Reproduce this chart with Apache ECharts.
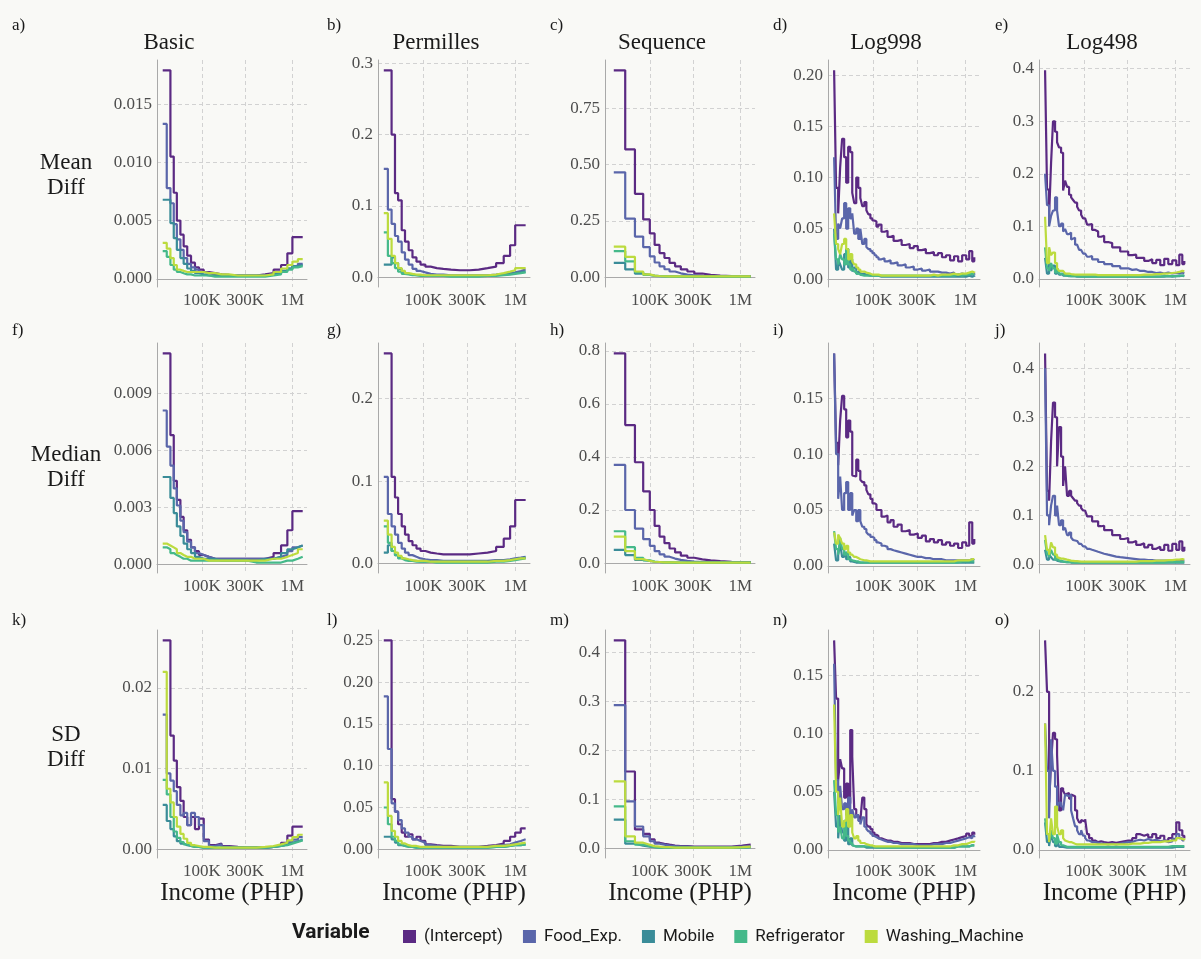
<!DOCTYPE html>
<html><head><meta charset="utf-8">
<script src="https://cdn.jsdelivr.net/npm/echarts@6/dist/echarts.min.js"></script>
<style>html,body{margin:0;padding:0;background:#f9f9f6}#c{width:1201px;height:959px}</style>
</head><body><div id="c"></div>
<script>
// ---------- categories ----------
const variables = ['(Intercept)', 'Food_Exp.', 'Mobile', 'Refrigerator', 'Washing_Machine'];
const methods = ['Basic', 'Permilles', 'Sequence', 'Log998', 'Log498'];
const statRows = ['Mean\nDiff', 'Median\nDiff', 'SD\nDiff'];
const panelLetters = ['a)','b)','c)','d)','e)','f)','g)','h)','i)','j)','k)','l)','m)','n)','o)'];
const xTickValues = [100000, 300000, 1000000];

// ---------- income break points (PHP) ----------
const incomeBasic = [37000, 41000, 45000, 49000, 53000, 58000, 63000, 69000, 76000, 84000, 93000, 105000, 120000, 140000, 165000, 200000, 250000, 320000, 400000, 500000, 620000, 750000, 880000, 1000000, 1150000, 1300000];
const incomeSeq = [40000, 53500, 68500, 84500, 100000, 113000, 128000, 145000, 165000, 190000, 220000, 260000, 310000, 380000, 470000, 600000, 800000, 1050000, 1300000];
const incomeLog = [37300, 39200, 41300, 43400, 45600, 48000, 50500, 53100, 55900, 58800,
  61800, 65000, 68400, 72000, 75700, 79600, 83800, 88100, 92700, 97500,
  102600, 107900, 113500, 122400, 132100, 142500, 153800, 165900, 183500, 203100,
  224700, 248600, 275200, 304400, 336900, 372800, 412500, 456300, 504900, 558700,
  618300, 684200, 756800, 837800, 926800, 1025600, 1106600, 1193800, 1255900];

// ---------- y tick values ----------
const ticksA = [0, 0.005, 0.010, 0.015];
const ticksB = [0, 0.1, 0.2, 0.3];
const ticksC = [0, 0.25, 0.5, 0.75];
const ticksD = [0, 0.05, 0.10, 0.15, 0.20];
const ticksE = [0, 0.1, 0.2, 0.3, 0.4];
const ticksF = [0, 0.003, 0.006, 0.009];
const ticksG = [0, 0.1, 0.2];
const ticksH = [0, 0.2, 0.4, 0.6, 0.8];
const ticksI = [0, 0.05, 0.10, 0.15];
const ticksJ = [0, 0.1, 0.2, 0.3, 0.4];
const ticksK = [0, 0.01, 0.02];
const ticksL = [0, 0.05, 0.10, 0.15, 0.20, 0.25];
const ticksM = [0, 0.1, 0.2, 0.3, 0.4];
const ticksN = [0, 0.05, 0.10, 0.15];
const ticksO = [0, 0.1, 0.2];

// ---------- a) Basic / Mean ----------
const aInt = [0.0179,0.0179,0.0105,0.0074,0.0050, 0.0038,0.0028,0.0020,0.0014,0.0010, 0.0008,0.0006,0.0005,0.0004,0.00035, 0.0003,0.0003,0.0003,0.0004,0.0005, 0.0008,0.0012,0.0022,0.0036,0.0036, 0.0036];
const aFood = [0.0133,0.0078,0.0065,0.0047,0.0034, 0.0025,0.0018,0.0013,0.0010,0.0008, 0.0006,0.0005,0.0004,0.0003,0.0003, 0.0003,0.0003,0.0003,0.0003,0.0004, 0.0005,0.0007,0.0009,0.0011,0.0013, 0.0013];
const aMobile = [0.0068,0.0068,0.0048,0.0035,0.0025, 0.0018,0.0013,0.0009,0.0007,0.0005, 0.0004,0.0003,0.0003,0.0003,0.0003, 0.0003,0.0003,0.0003,0.0003,0.0004, 0.0005,0.0007,0.0009,0.0011,0.0012, 0.0012];
const aFridge = [0.0024,0.0019,0.0012,0.0008,0.0006, 0.0005,0.0004,0.0004,0.0003,0.0003, 0.0003,0.0003,0.0002,0.0002,0.0002, 0.0002,0.0002,0.0002,0.0002,0.0003, 0.0004,0.0006,0.0008,0.0010,0.0011, 0.0011];
const aWash = [0.0031,0.0026,0.0018,0.0012,0.0008, 0.0007,0.0006,0.0006,0.0006,0.0006, 0.0006,0.0005,0.0005,0.0004,0.0004, 0.0003,0.0003,0.0003,0.0003,0.0004, 0.0006,0.0009,0.0012,0.0015,0.0017, 0.0017];

// ---------- f) Basic / Median ----------
const fInt = [0.0111,0.0111,0.0068,0.0044,0.0034, 0.0025,0.0018,0.0013,0.0009,0.0007, 0.0005,0.0004,0.0003,0.0003,0.0003, 0.0003,0.0003,0.0003,0.0003,0.0004, 0.0006,0.0010,0.0018,0.0028,0.0028, 0.0028];
const fFood = [0.0081,0.0062,0.0052,0.0040,0.0031, 0.0023,0.0017,0.0012,0.0009,0.0006, 0.0005,0.0004,0.0003,0.0003,0.0003, 0.0003,0.0003,0.0003,0.0003,0.0003, 0.0004,0.0005,0.0007,0.0009,0.0010, 0.0010];
const fMobile = [0.0046,0.0046,0.0035,0.0027,0.0020, 0.0015,0.0011,0.0008,0.0006,0.0004, 0.0003,0.0003,0.0003,0.0002,0.0002, 0.0002,0.0002,0.0002,0.0003,0.0003, 0.0004,0.0006,0.0008,0.0009,0.0010, 0.0010];
const fFridge = [0.0009,0.0008,0.0006,0.0005,0.0004, 0.0003,0.0003,0.0002,0.0002,0.0002, 0.0002,0.0002,0.0002,0.0002,0.0002, 0.0002,0.0002,0.0001,0.0001,0.0001, 0.0001,0.0002,0.0002,0.0003,0.0004, 0.0004];
const fWash = [0.0011,0.0010,0.0009,0.0008,0.0006, 0.0005,0.0004,0.0004,0.0003,0.0003, 0.0003,0.0002,0.0002,0.0002,0.0002, 0.0002,0.0002,0.0002,0.0002,0.0003, 0.0003,0.0004,0.0005,0.0006,0.0008, 0.0008];

// ---------- k) Basic / SD ----------
const kInt = [0.0259,0.0259,0.0141,0.0110,0.0077, 0.0060,0.0040,0.0030,0.0040,0.0025, 0.0038,0.0012,0.0005,0.0007,0.0004, 0.0003,0.0002,0.0002,0.0002,0.0003, 0.0005,0.0008,0.0017,0.0028,0.0028, 0.0028];
const kFood = [0.0167,0.0094,0.0085,0.0072,0.0055, 0.0042,0.0045,0.0030,0.0045,0.0040, 0.0030,0.0010,0.0004,0.0006,0.0003, 0.0002,0.0002,0.0002,0.0002,0.0003, 0.0004,0.0006,0.0009,0.0012,0.0015, 0.0015];
const kMobile = [0.0055,0.0035,0.0025,0.0016,0.0010, 0.0007,0.0005,0.0004,0.0003,0.0003, 0.0002,0.0002,0.0002,0.0002,0.0002, 0.0002,0.0002,0.0002,0.0002,0.0003, 0.0004,0.0006,0.0008,0.0010,0.0012, 0.0012];
const kFridge = [0.0086,0.0068,0.0040,0.0022,0.0014, 0.0009,0.0006,0.0004,0.0003,0.0003, 0.0002,0.0002,0.0002,0.0002,0.0002, 0.0002,0.0002,0.0002,0.0002,0.0003, 0.0004,0.0005,0.0007,0.0009,0.0011, 0.0011];
const kWash = [0.0220,0.0075,0.0058,0.0040,0.0028, 0.0019,0.0013,0.0008,0.0005,0.0004, 0.0003,0.0003,0.0002,0.0002,0.0002, 0.0002,0.0002,0.0002,0.0003,0.0004, 0.0006,0.0008,0.0011,0.0015,0.0018, 0.0018];

// ---------- b) Permilles / Mean ----------
const bInt = [0.290,0.290,0.200,0.118,0.108, 0.066,0.050,0.038,0.028,0.022, 0.018,0.015,0.013,0.012,0.011, 0.010,0.010,0.011,0.013,0.015, 0.020,0.030,0.045,0.073,0.073, 0.073];
const bFood = [0.152,0.095,0.075,0.058,0.050, 0.035,0.025,0.018,0.012,0.009, 0.007,0.005,0.004,0.004,0.003, 0.003,0.003,0.003,0.003,0.004, 0.005,0.006,0.007,0.009,0.011, 0.011];
const bMobile = [0.018,0.018,0.028,0.020,0.012, 0.008,0.005,0.004,0.003,0.003, 0.002,0.002,0.002,0.002,0.002, 0.002,0.002,0.002,0.002,0.003, 0.004,0.005,0.006,0.007,0.008, 0.008];
const bFridge = [0.063,0.030,0.020,0.013,0.008, 0.005,0.004,0.003,0.003,0.002, 0.002,0.002,0.002,0.002,0.001, 0.001,0.001,0.001,0.002,0.002, 0.003,0.004,0.005,0.006,0.007, 0.007];
const bWash = [0.090,0.054,0.030,0.020,0.013, 0.009,0.006,0.005,0.004,0.004, 0.003,0.003,0.003,0.003,0.003, 0.003,0.003,0.003,0.003,0.004, 0.006,0.008,0.010,0.013,0.013, 0.013];

// ---------- g) Permilles / Median ----------
const gInt = [0.255,0.255,0.105,0.080,0.060, 0.045,0.035,0.027,0.022,0.018, 0.015,0.013,0.012,0.011,0.011, 0.011,0.011,0.012,0.013,0.015, 0.020,0.030,0.045,0.077,0.077, 0.077];
const gFood = [0.105,0.060,0.045,0.035,0.025, 0.018,0.013,0.010,0.008,0.006, 0.005,0.004,0.004,0.003,0.003, 0.003,0.003,0.003,0.003,0.004, 0.004,0.005,0.006,0.007,0.008, 0.008];
const gMobile = [0.013,0.022,0.015,0.010,0.007, 0.005,0.004,0.003,0.003,0.002, 0.002,0.002,0.002,0.002,0.002, 0.002,0.002,0.002,0.002,0.003, 0.003,0.004,0.005,0.006,0.007, 0.007];
const gFridge = [0.045,0.025,0.015,0.010,0.006, 0.004,0.003,0.003,0.002,0.002, 0.002,0.002,0.001,0.001,0.001, 0.001,0.001,0.001,0.001,0.002, 0.002,0.003,0.004,0.005,0.006, 0.006];
const gWash = [0.052,0.035,0.020,0.013,0.009, 0.006,0.005,0.004,0.003,0.003, 0.003,0.002,0.002,0.002,0.002, 0.002,0.002,0.002,0.002,0.003, 0.003,0.004,0.005,0.006,0.006, 0.006];

// ---------- l) Permilles / SD ----------
const lInt = [0.250,0.250,0.060,0.045,0.030, 0.020,0.015,0.018,0.012,0.015, 0.010,0.006,0.005,0.004,0.004, 0.003,0.003,0.003,0.004,0.005, 0.007,0.010,0.015,0.020,0.025, 0.025];
const lFood = [0.183,0.120,0.055,0.045,0.035, 0.025,0.020,0.015,0.012,0.010, 0.008,0.005,0.004,0.003,0.003, 0.003,0.003,0.003,0.003,0.004, 0.005,0.006,0.008,0.010,0.012, 0.012];
const lMobile = [0.015,0.015,0.012,0.008,0.005, 0.004,0.003,0.003,0.002,0.002, 0.002,0.002,0.002,0.002,0.002, 0.002,0.002,0.002,0.002,0.003, 0.003,0.004,0.005,0.005,0.006, 0.006];
const lFridge = [0.050,0.030,0.015,0.010,0.006, 0.004,0.003,0.003,0.002,0.002, 0.002,0.002,0.002,0.002,0.002, 0.002,0.002,0.002,0.002,0.003, 0.003,0.004,0.005,0.005,0.006, 0.006];
const lWash = [0.080,0.040,0.022,0.015,0.010, 0.007,0.005,0.004,0.004,0.003, 0.003,0.003,0.003,0.003,0.003, 0.003,0.003,0.003,0.003,0.004, 0.004,0.005,0.006,0.007,0.008, 0.008];

// ---------- c) Sequence / Mean ----------
const cInt = [0.918,0.567,0.370,0.256,0.194, 0.143,0.107,0.085,0.063,0.048, 0.034,0.025,0.016,0.010,0.007, 0.005,0.004,0.004,0.004];
const cFood = [0.465,0.260,0.180,0.133,0.092, 0.065,0.048,0.035,0.025,0.017, 0.011,0.008,0.005,0.004,0.003, 0.003,0.003,0.003,0.003];
const cMobile = [0.063,0.034,0.015,0.010,0.007, 0.005,0.004,0.003,0.003,0.002, 0.002,0.002,0.002,0.002,0.002, 0.002,0.002,0.002,0.002];
const cFridge = [0.115,0.070,0.022,0.010,0.006, 0.004,0.003,0.003,0.002,0.002, 0.002,0.002,0.002,0.002,0.002, 0.002,0.002,0.002,0.002];
const cWash = [0.135,0.090,0.025,0.012,0.007, 0.005,0.004,0.003,0.003,0.003, 0.003,0.003,0.003,0.003,0.003, 0.003,0.003,0.003,0.003];

// ---------- h) Sequence / Median ----------
const hInt = [0.790,0.520,0.380,0.270,0.200, 0.140,0.100,0.075,0.055,0.040, 0.028,0.020,0.014,0.010,0.007, 0.005,0.004,0.004,0.004];
const hFood = [0.370,0.200,0.130,0.090,0.065, 0.045,0.033,0.024,0.017,0.012, 0.008,0.006,0.004,0.003,0.003, 0.003,0.003,0.003,0.003];
const hMobile = [0.050,0.030,0.012,0.008,0.005, 0.004,0.003,0.003,0.002,0.002, 0.002,0.002,0.002,0.002,0.002, 0.002,0.002,0.002,0.002];
const hFridge = [0.120,0.060,0.020,0.010,0.006, 0.004,0.003,0.003,0.002,0.002, 0.002,0.002,0.002,0.002,0.002, 0.002,0.002,0.002,0.002];
const hWash = [0.100,0.045,0.015,0.008,0.005, 0.004,0.003,0.003,0.003,0.002, 0.002,0.002,0.002,0.002,0.002, 0.002,0.002,0.002,0.002];

// ---------- m) Sequence / SD ----------
const mInt = [0.424,0.157,0.039,0.030,0.019, 0.012,0.010,0.008,0.006,0.005, 0.005,0.004,0.004,0.004,0.004, 0.004,0.006,0.008,0.008];
const mFood = [0.292,0.096,0.045,0.025,0.015, 0.010,0.008,0.006,0.005,0.004, 0.004,0.003,0.003,0.003,0.003, 0.003,0.004,0.005,0.005];
const mMobile = [0.059,0.010,0.006,0.004,0.003, 0.002,0.002,0.002,0.002,0.002, 0.002,0.002,0.002,0.002,0.002, 0.002,0.002,0.003,0.003];
const mFridge = [0.086,0.015,0.008,0.005,0.003, 0.002,0.002,0.002,0.002,0.002, 0.002,0.002,0.002,0.002,0.002, 0.002,0.002,0.003,0.003];
const mWash = [0.137,0.025,0.012,0.008,0.005, 0.004,0.003,0.003,0.002,0.002, 0.002,0.002,0.002,0.002,0.002, 0.002,0.003,0.004,0.004];

// ---------- d) Log998 / Mean ----------
const dInt = [0.205,0.090,0.065,0.110,0.138,0.120,0.095,0.130,0.125,0.085,
  0.075,0.100,0.090,0.080,0.072,0.076,0.068,0.064,0.060,0.058,
  0.057,0.052,0.054,0.047,0.048,0.042,0.043,0.038,0.039,0.034,
  0.035,0.031,0.033,0.029,0.030,0.026,0.027,0.024,0.026,0.022,
  0.024,0.019,0.023,0.018,0.024,0.020,0.028,0.018,0.022];
const dFood = [0.120,0.040,0.055,0.050,0.060,0.075,0.050,0.070,0.060,0.065,
  0.045,0.050,0.040,0.050,0.035,0.040,0.032,0.030,0.028,0.026,
  0.024,0.022,0.020,0.021,0.018,0.019,0.016,0.017,0.014,0.015,
  0.012,0.013,0.010,0.011,0.009,0.010,0.008,0.008,0.007,0.007,
  0.006,0.007,0.005,0.006,0.005,0.006,0.005,0.006,0.005];
const dMobile = [0.050,0.010,0.020,0.015,0.010,0.025,0.030,0.012,0.020,0.008,
  0.012,0.006,0.008,0.005,0.006,0.005,0.005,0.004,0.004,0.004,
  0.004,0.004,0.003,0.003,0.003,0.003,0.003,0.003,0.003,0.003,
  0.003,0.003,0.003,0.003,0.003,0.003,0.003,0.003,0.003,0.003,
  0.003,0.003,0.003,0.003,0.003,0.004,0.003,0.004,0.003];
const dFridge = [0.045,0.020,0.015,0.025,0.020,0.015,0.030,0.015,0.010,0.012,
  0.008,0.006,0.005,0.005,0.004,0.004,0.004,0.004,0.004,0.004,
  0.004,0.004,0.004,0.004,0.004,0.004,0.004,0.004,0.004,0.004,
  0.004,0.004,0.004,0.004,0.004,0.004,0.004,0.004,0.004,0.004,
  0.004,0.004,0.005,0.004,0.005,0.005,0.006,0.005,0.005];
const dWash = [0.065,0.035,0.030,0.025,0.035,0.040,0.030,0.020,0.025,0.018,
  0.015,0.012,0.010,0.008,0.008,0.007,0.006,0.006,0.005,0.005,
  0.005,0.005,0.004,0.004,0.004,0.004,0.004,0.004,0.004,0.004,
  0.004,0.004,0.004,0.004,0.004,0.004,0.005,0.004,0.005,0.005,
  0.005,0.006,0.005,0.006,0.006,0.007,0.008,0.007,0.008];

// ---------- e) Log498 / Mean ----------
const eInt = [0.397,0.170,0.120,0.220,0.300,0.280,0.260,0.250,0.240,0.168,
  0.187,0.175,0.160,0.155,0.150,0.145,0.137,0.130,0.122,0.115,
  0.112,0.103,0.104,0.093,0.090,0.080,0.082,0.070,0.068,0.060,
  0.060,0.052,0.052,0.045,0.046,0.040,0.040,0.034,0.037,0.030,
  0.036,0.026,0.038,0.028,0.035,0.026,0.046,0.028,0.034];
const eFood = [0.200,0.140,0.100,0.120,0.130,0.155,0.130,0.100,0.105,0.090,
  0.095,0.085,0.088,0.075,0.078,0.065,0.066,0.055,0.056,0.048,
  0.047,0.042,0.043,0.037,0.037,0.032,0.032,0.028,0.028,0.024,
  0.024,0.020,0.020,0.017,0.018,0.015,0.015,0.013,0.013,0.011,
  0.012,0.010,0.012,0.010,0.011,0.010,0.012,0.010,0.011];
const eMobile = [0.040,0.010,0.030,0.015,0.025,0.010,0.020,0.008,0.010,0.006,
  0.006,0.005,0.005,0.005,0.005,0.004,0.004,0.004,0.004,0.004,
  0.004,0.004,0.004,0.004,0.004,0.004,0.004,0.004,0.004,0.004,
  0.004,0.004,0.004,0.004,0.004,0.004,0.004,0.004,0.004,0.004,
  0.004,0.004,0.005,0.004,0.005,0.005,0.006,0.005,0.006];
const eFridge = [0.060,0.020,0.015,0.030,0.020,0.012,0.020,0.010,0.008,0.008,
  0.006,0.006,0.005,0.005,0.005,0.005,0.005,0.004,0.004,0.004,
  0.004,0.004,0.004,0.004,0.004,0.004,0.004,0.004,0.004,0.004,
  0.004,0.004,0.004,0.004,0.004,0.004,0.004,0.004,0.004,0.004,
  0.004,0.005,0.005,0.005,0.005,0.006,0.006,0.006,0.006];
const eWash = [0.118,0.030,0.060,0.045,0.050,0.030,0.020,0.015,0.015,0.012,
  0.010,0.010,0.009,0.009,0.008,0.008,0.008,0.008,0.008,0.008,
  0.008,0.008,0.008,0.008,0.007,0.007,0.007,0.007,0.007,0.007,
  0.007,0.007,0.007,0.007,0.007,0.007,0.008,0.008,0.008,0.009,
  0.009,0.010,0.010,0.011,0.012,0.013,0.015,0.014,0.015];

// ---------- i) Log998 / Median ----------
const iInt = [0.190,0.110,0.090,0.130,0.152,0.140,0.115,0.130,0.120,0.081,
  0.080,0.095,0.085,0.077,0.075,0.072,0.068,0.064,0.060,0.056,
  0.055,0.050,0.050,0.044,0.045,0.039,0.041,0.035,0.037,0.031,
  0.032,0.028,0.029,0.025,0.027,0.022,0.024,0.021,0.023,0.019,
  0.021,0.018,0.020,0.016,0.021,0.018,0.039,0.020,0.024];
const iFood = [0.190,0.100,0.060,0.080,0.050,0.065,0.075,0.050,0.065,0.045,
  0.050,0.040,0.050,0.040,0.035,0.033,0.030,0.028,0.026,0.025,
  0.023,0.021,0.020,0.018,0.017,0.015,0.014,0.013,0.012,0.011,
  0.010,0.009,0.008,0.008,0.007,0.007,0.006,0.006,0.006,0.005,
  0.005,0.005,0.005,0.005,0.005,0.005,0.006,0.005,0.005];
const iMobile = [0.020,0.005,0.010,0.020,0.008,0.012,0.006,0.008,0.004,0.004,
  0.003,0.003,0.003,0.003,0.003,0.003,0.003,0.003,0.003,0.003,
  0.003,0.003,0.003,0.003,0.003,0.003,0.003,0.003,0.003,0.003,
  0.003,0.003,0.003,0.003,0.003,0.003,0.003,0.003,0.003,0.003,
  0.003,0.003,0.003,0.003,0.003,0.003,0.003,0.003,0.003];
const iFridge = [0.031,0.015,0.010,0.025,0.015,0.010,0.012,0.006,0.005,0.004,
  0.004,0.004,0.003,0.003,0.003,0.003,0.003,0.003,0.003,0.003,
  0.003,0.003,0.003,0.003,0.003,0.003,0.003,0.003,0.003,0.003,
  0.003,0.003,0.003,0.003,0.003,0.003,0.003,0.003,0.003,0.003,
  0.003,0.003,0.003,0.004,0.004,0.004,0.004,0.004,0.004];
const iWash = [0.030,0.020,0.028,0.025,0.020,0.015,0.018,0.012,0.010,0.010,
  0.008,0.007,0.006,0.005,0.005,0.005,0.005,0.004,0.004,0.004,
  0.004,0.004,0.004,0.004,0.004,0.004,0.004,0.004,0.004,0.004,
  0.004,0.004,0.004,0.004,0.004,0.004,0.004,0.004,0.004,0.004,
  0.004,0.004,0.005,0.005,0.005,0.005,0.006,0.006,0.006];

// ---------- j) Log498 / Median ----------
const jInt = [0.430,0.150,0.130,0.250,0.330,0.300,0.200,0.280,0.220,0.160,
  0.200,0.140,0.150,0.140,0.135,0.130,0.125,0.120,0.115,0.110,
  0.108,0.098,0.098,0.088,0.088,0.078,0.079,0.070,0.070,0.060,
  0.060,0.052,0.054,0.045,0.048,0.040,0.043,0.035,0.040,0.032,
  0.036,0.030,0.040,0.028,0.042,0.030,0.047,0.028,0.036];
const jFood = [0.400,0.100,0.080,0.120,0.140,0.100,0.120,0.080,0.090,0.070,
  0.075,0.060,0.065,0.055,0.050,0.048,0.045,0.042,0.040,0.037,
  0.035,0.032,0.030,0.028,0.026,0.024,0.022,0.020,0.018,0.016,
  0.015,0.014,0.013,0.012,0.011,0.010,0.010,0.009,0.009,0.008,
  0.008,0.008,0.008,0.008,0.008,0.009,0.008,0.009,0.008];
const jMobile = [0.030,0.010,0.020,0.015,0.010,0.008,0.012,0.006,0.006,0.005,
  0.005,0.005,0.004,0.004,0.004,0.004,0.004,0.004,0.004,0.004,
  0.004,0.004,0.004,0.004,0.004,0.004,0.004,0.004,0.004,0.004,
  0.004,0.004,0.004,0.004,0.004,0.004,0.004,0.004,0.004,0.004,
  0.004,0.004,0.004,0.004,0.004,0.004,0.004,0.004,0.004];
const jFridge = [0.050,0.020,0.015,0.030,0.020,0.010,0.015,0.008,0.006,0.006,
  0.005,0.005,0.005,0.004,0.004,0.004,0.004,0.004,0.004,0.004,
  0.004,0.004,0.004,0.004,0.004,0.004,0.004,0.004,0.004,0.004,
  0.004,0.004,0.004,0.004,0.004,0.004,0.004,0.004,0.004,0.004,
  0.004,0.004,0.005,0.005,0.005,0.005,0.005,0.005,0.005];
const jWash = [0.060,0.030,0.020,0.045,0.035,0.020,0.015,0.012,0.012,0.010,
  0.010,0.009,0.008,0.008,0.007,0.007,0.007,0.006,0.006,0.006,
  0.006,0.006,0.006,0.006,0.006,0.006,0.006,0.006,0.006,0.006,
  0.006,0.006,0.006,0.006,0.006,0.007,0.007,0.007,0.007,0.008,
  0.008,0.008,0.009,0.009,0.010,0.010,0.011,0.010,0.010];

// ---------- n) Log998 / SD ----------
const nInt = [0.180,0.130,0.060,0.078,0.070,0.045,0.057,0.040,0.103,0.080,
  0.035,0.030,0.028,0.025,0.045,0.035,0.022,0.020,0.018,0.015,
  0.013,0.012,0.010,0.009,0.008,0.008,0.007,0.007,0.006,0.006,
  0.006,0.005,0.005,0.005,0.005,0.005,0.006,0.006,0.007,0.007,
  0.008,0.009,0.010,0.011,0.012,0.014,0.012,0.015,0.013];
const nFood = [0.160,0.060,0.040,0.055,0.035,0.040,0.030,0.045,0.030,0.035,
  0.028,0.030,0.025,0.022,0.028,0.020,0.018,0.016,0.014,0.012,
  0.011,0.010,0.009,0.008,0.007,0.007,0.006,0.006,0.005,0.005,
  0.005,0.005,0.004,0.004,0.004,0.004,0.005,0.005,0.005,0.006,
  0.006,0.007,0.008,0.009,0.010,0.011,0.010,0.012,0.011];
const nMobile = [0.050,0.020,0.010,0.030,0.015,0.008,0.020,0.005,0.010,0.004,
  0.003,0.003,0.003,0.003,0.003,0.002,0.002,0.002,0.002,0.002,
  0.002,0.002,0.002,0.002,0.002,0.002,0.002,0.002,0.002,0.002,
  0.002,0.002,0.002,0.002,0.002,0.002,0.002,0.002,0.002,0.002,
  0.002,0.002,0.003,0.003,0.003,0.003,0.004,0.004,0.004];
const nFridge = [0.060,0.030,0.015,0.020,0.010,0.025,0.012,0.008,0.006,0.004,
  0.003,0.003,0.003,0.003,0.003,0.003,0.003,0.003,0.003,0.003,
  0.002,0.002,0.002,0.002,0.002,0.002,0.002,0.002,0.002,0.002,
  0.002,0.002,0.002,0.002,0.002,0.002,0.002,0.002,0.002,0.002,
  0.002,0.002,0.003,0.003,0.003,0.003,0.004,0.004,0.004];
const nWash = [0.125,0.050,0.030,0.045,0.020,0.025,0.035,0.020,0.030,0.015,
  0.010,0.012,0.008,0.006,0.006,0.005,0.004,0.004,0.004,0.003,
  0.003,0.003,0.003,0.003,0.003,0.003,0.003,0.003,0.003,0.003,
  0.003,0.003,0.003,0.003,0.003,0.003,0.003,0.003,0.003,0.003,
  0.003,0.004,0.004,0.005,0.005,0.006,0.007,0.007,0.008];

// ---------- o) Log498 / SD ----------
const oInt = [0.265,0.200,0.060,0.110,0.148,0.140,0.120,0.050,0.078,0.075,
  0.070,0.072,0.065,0.070,0.068,0.050,0.040,0.035,0.038,0.036,
  0.039,0.020,0.015,0.012,0.010,0.011,0.010,0.009,0.010,0.009,
  0.010,0.011,0.012,0.012,0.015,0.020,0.018,0.020,0.016,0.020,
  0.015,0.018,0.012,0.015,0.020,0.035,0.025,0.018,0.015];
const oFood = [0.160,0.100,0.040,0.140,0.100,0.080,0.050,0.060,0.055,0.050,
  0.070,0.068,0.070,0.050,0.040,0.030,0.025,0.020,0.025,0.018,
  0.015,0.012,0.010,0.010,0.009,0.008,0.008,0.007,0.008,0.007,
  0.008,0.009,0.010,0.010,0.012,0.013,0.012,0.014,0.012,0.013,
  0.011,0.012,0.010,0.011,0.014,0.020,0.015,0.012,0.012];
const oMobile = [0.035,0.010,0.005,0.020,0.010,0.005,0.015,0.004,0.004,0.003,
  0.003,0.003,0.003,0.003,0.003,0.003,0.003,0.003,0.003,0.003,
  0.003,0.003,0.003,0.003,0.003,0.003,0.003,0.003,0.003,0.003,
  0.003,0.003,0.003,0.003,0.003,0.003,0.003,0.003,0.003,0.003,
  0.003,0.003,0.003,0.003,0.004,0.004,0.004,0.004,0.004];
const oFridge = [0.040,0.020,0.010,0.025,0.015,0.008,0.020,0.010,0.006,0.005,
  0.004,0.004,0.004,0.004,0.004,0.004,0.004,0.004,0.004,0.004,
  0.004,0.004,0.004,0.004,0.004,0.004,0.004,0.004,0.004,0.004,
  0.004,0.004,0.004,0.004,0.004,0.004,0.004,0.004,0.004,0.004,
  0.004,0.004,0.004,0.005,0.005,0.005,0.005,0.005,0.005];
const oWash = [0.160,0.020,0.010,0.040,0.020,0.055,0.030,0.020,0.025,0.015,
  0.012,0.010,0.010,0.008,0.008,0.007,0.007,0.007,0.007,0.007,
  0.007,0.007,0.007,0.007,0.007,0.007,0.007,0.007,0.007,0.007,
  0.007,0.007,0.007,0.008,0.008,0.008,0.009,0.009,0.010,0.010,
  0.010,0.011,0.011,0.012,0.012,0.015,0.014,0.013,0.015];

// ---------- panel table (row-major: Mean, Median, SD × 5 methods) ----------
const panels = [
  {x: incomeBasic, ys: [aInt, aFood, aMobile, aFridge, aWash], ticks: ticksA, dec: 3},
  {x: incomeBasic, ys: [bInt, bFood, bMobile, bFridge, bWash], ticks: ticksB, dec: 1},
  {x: incomeSeq,   ys: [cInt, cFood, cMobile, cFridge, cWash], ticks: ticksC, dec: 2},
  {x: incomeLog,   ys: [dInt, dFood, dMobile, dFridge, dWash], ticks: ticksD, dec: 2},
  {x: incomeLog,   ys: [eInt, eFood, eMobile, eFridge, eWash], ticks: ticksE, dec: 1},
  {x: incomeBasic, ys: [fInt, fFood, fMobile, fFridge, fWash], ticks: ticksF, dec: 3},
  {x: incomeBasic, ys: [gInt, gFood, gMobile, gFridge, gWash], ticks: ticksG, dec: 1},
  {x: incomeSeq,   ys: [hInt, hFood, hMobile, hFridge, hWash], ticks: ticksH, dec: 1},
  {x: incomeLog,   ys: [iInt, iFood, iMobile, iFridge, iWash], ticks: ticksI, dec: 2},
  {x: incomeLog,   ys: [jInt, jFood, jMobile, jFridge, jWash], ticks: ticksJ, dec: 1},
  {x: incomeBasic, ys: [kInt, kFood, kMobile, kFridge, kWash], ticks: ticksK, dec: 2},
  {x: incomeBasic, ys: [lInt, lFood, lMobile, lFridge, lWash], ticks: ticksL, dec: 2},
  {x: incomeSeq,   ys: [mInt, mFood, mMobile, mFridge, mWash], ticks: ticksM, dec: 1},
  {x: incomeLog,   ys: [nInt, nFood, nMobile, nFridge, nWash], ticks: ticksN, dec: 2},
  {x: incomeLog,   ys: [oInt, oFood, oMobile, oFridge, oWash], ticks: ticksO, dec: 1}
];

// ---------- styling / layout ----------
const COLORS = ['#5b2a83', '#5a66aa', '#3a8c98', '#45b98a', '#bcdb3e'];
const SERIF = "'Liberation Serif', 'DejaVu Serif', serif";
const SANS = "'Liberation Sans Narrow', 'Roboto', 'Liberation Sans', sans-serif";
const colLeft = [157, 378, 605, 828, 1039];
const colWidth = [150, 152, 150, 152, 151];
const rowTop = [60, 343, 630];
const rowHeight = [227, 230, 228];
const letterLeft = [12, 327, 550, 773, 995];
const letterTop = [17, 322, 612];
const titleCenter = [169, 436, 662, 886, 1102];
const rowLabelTop = [150, 442, 722];
const X_MIN = 32000, X_MAX = 1450000;

function padRange(arrs) {
  let lo = Infinity, hi = -Infinity;
  arrs.forEach(a => a.forEach(v => { if (v < lo) lo = v; if (v > hi) hi = v; }));
  const s = hi - lo;
  return [lo - 0.05 * s, hi + 0.05 * s];
}
function fmtIncome(v) {
  const r = Math.round(v);
  return r >= 1000000 ? Math.round(r / 1000000) + 'M' : Math.round(r / 1000) + 'K';
}

const grids = [], xAxes = [], yAxes = [], series = [], titles = [];
const gridLine = {show: true, lineStyle: {color: '#d2d2d2', width: 1, type: [4, 3]}};
panels.forEach((p, i) => {
  const r = Math.floor(i / 5), c = i % 5;
  grids.push({left: colLeft[c], top: rowTop[r], width: colWidth[c], height: rowHeight[r], containLabel: false});
  xAxes.push({
    type: 'log', logBase: 10, gridIndex: i, min: X_MIN, max: X_MAX,
    axisLine: {show: true, lineStyle: {color: '#a9a9a9', width: 1}},
    axisTick: {show: false, customValues: xTickValues},
    minorTick: {show: false}, minorSplitLine: {show: false},
    axisLabel: {customValues: xTickValues, formatter: fmtIncome, fontFamily: SERIF, fontSize: 17, color: '#4d4d4d', margin: 5},
    splitLine: gridLine,
    name: r === 2 ? 'Income (PHP)' : '', nameLocation: 'middle', nameGap: 23,
    nameTextStyle: {fontFamily: SERIF, fontSize: 25, color: '#1a1a1a', verticalAlign: 'top'}
  });
  const rg = padRange(p.ys);
  yAxes.push({
    type: 'value', gridIndex: i, min: rg[0], max: rg[1],
    axisLine: {show: true, lineStyle: {color: '#a9a9a9', width: 1}},
    axisTick: {show: false, customValues: p.ticks},
    axisLabel: {customValues: p.ticks, formatter: v => Number(v).toFixed(p.dec), fontFamily: SERIF, fontSize: 17, color: '#4d4d4d', margin: 5},
    splitLine: gridLine
  });
  p.ys.forEach((ys, k) => {
    series.push({
      type: 'line', name: variables[k], xAxisIndex: i, yAxisIndex: i, step: 'end',
      symbol: 'none', showSymbol: false, silent: true, animation: false,
      lineStyle: {color: COLORS[k], width: 2.2}, itemStyle: {color: COLORS[k]},
      emphasis: {disabled: true},
      data: ys.map((y, j) => [p.x[j], y])
    });
  });
  titles.push({text: panelLetters[i], left: letterLeft[c], top: letterTop[r], padding: 0,
    textStyle: {fontFamily: SERIF, fontSize: 17, fontWeight: 'normal', color: '#1a1a1a'}});
});
methods.forEach((m, c) => titles.push({text: m, left: titleCenter[c], top: 31, textAlign: 'center', padding: 0,
  textStyle: {fontFamily: SERIF, fontSize: 23, fontWeight: 'normal', color: '#1a1a1a'}}));
statRows.forEach((s, r) => titles.push({text: s, left: 66, top: rowLabelTop[r], textAlign: 'center', padding: 0,
  textStyle: {fontFamily: SERIF, fontSize: 23, fontWeight: 'normal', color: '#1a1a1a', lineHeight: 25}}));
titles.push({text: 'Variable', left: 292, top: 922, padding: 0,
  textStyle: {fontFamily: SANS, fontSize: 21, fontWeight: 'bold', color: '#1a1a1a'}});

const chart = echarts.init(document.getElementById('c'), null, {renderer: 'canvas'});
chart.setOption({
  backgroundColor: '#f9f9f6',
  animation: false,
  title: titles,
  legend: {
    data: variables, left: 403, top: 928, padding: 0, itemWidth: 13, itemHeight: 13, itemGap: 20,
    icon: 'rect', selectedMode: false,
    textStyle: {fontFamily: SANS, fontSize: 17, color: '#1a1a1a', padding: [0, 0, 0, 3]}
  },
  grid: grids, xAxis: xAxes, yAxis: yAxes, series: series
});
</script></body></html>
